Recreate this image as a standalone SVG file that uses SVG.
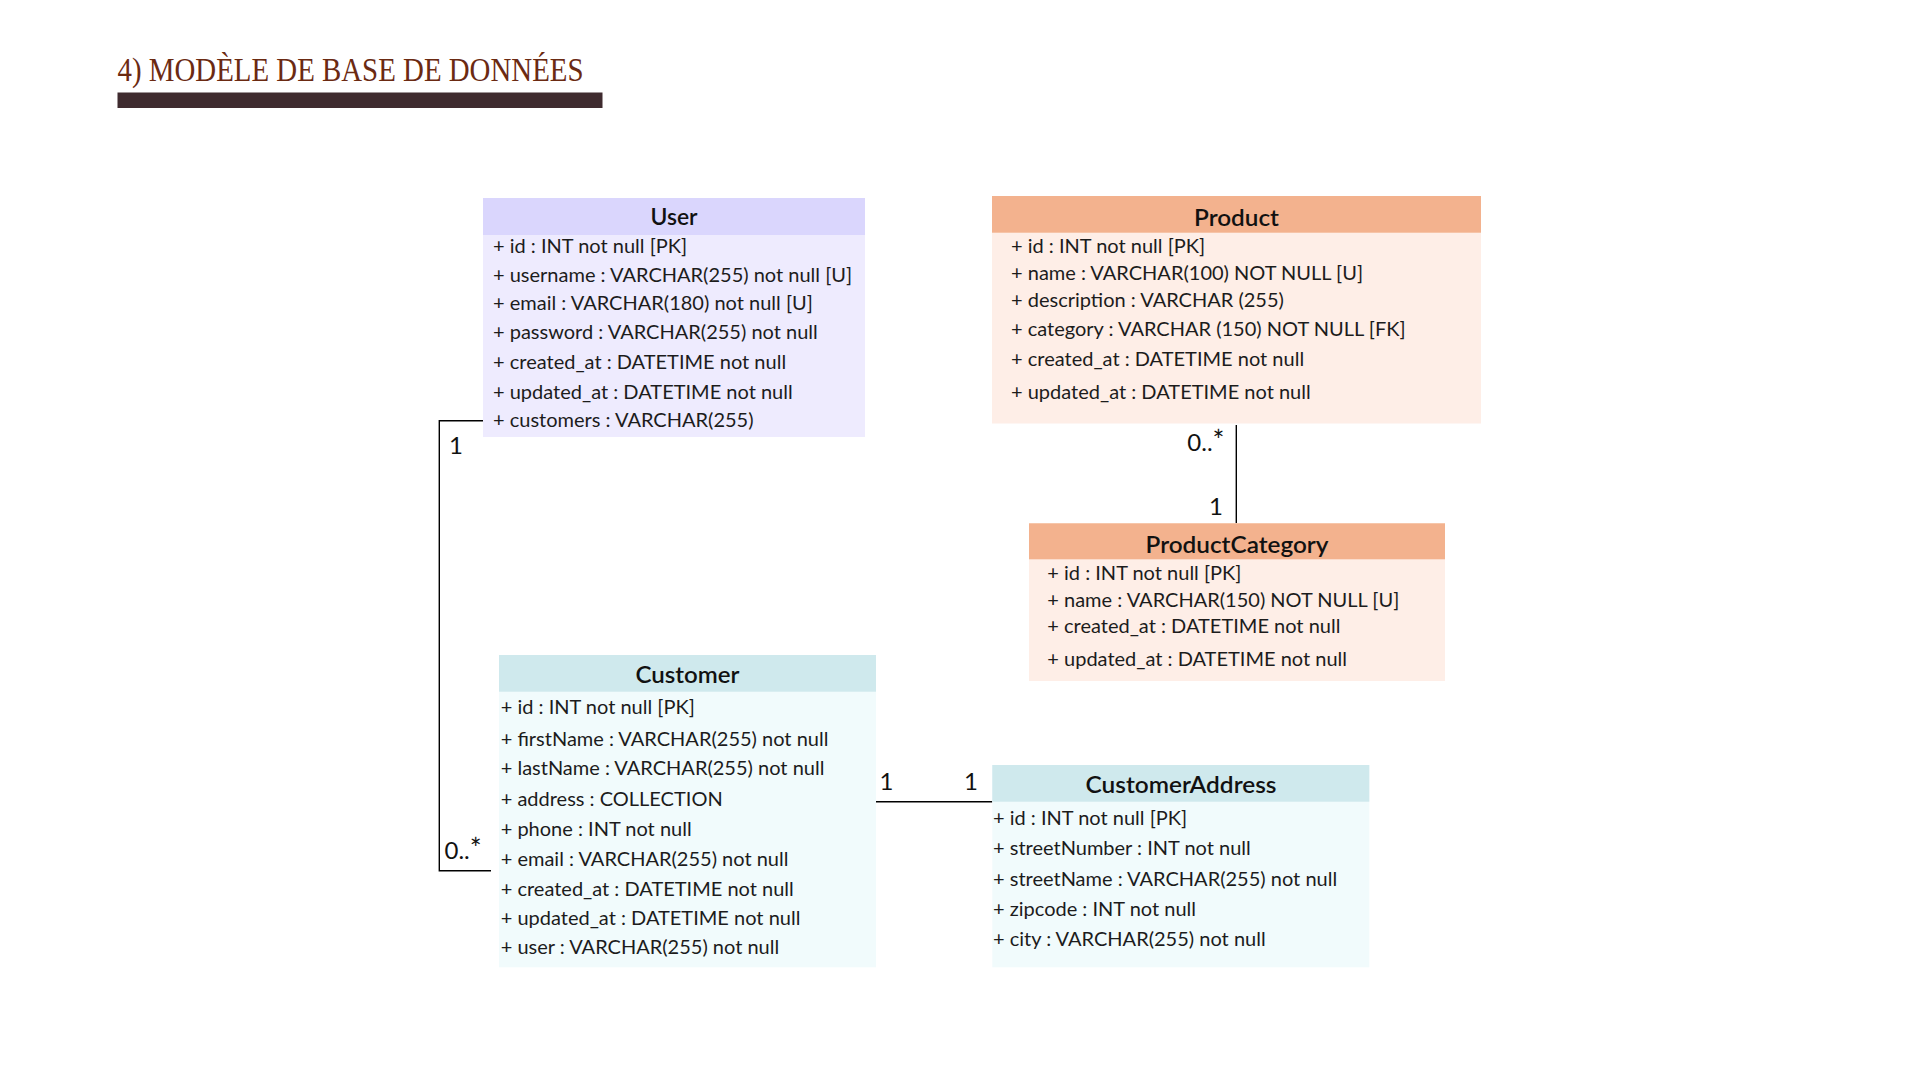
<svg xmlns="http://www.w3.org/2000/svg" width="1920" height="1080" viewBox="0 0 1920 1080">
<style>
.row{font-family:Lato,"Noto Sans",sans-serif;font-size:20px;fill:#1c1c1c}
.hd{font-family:Lato,"Noto Sans",sans-serif;font-size:22px;font-weight:600;fill:#111;text-anchor:middle}
.lbl{font-family:Lato,"Noto Sans",sans-serif;font-size:24px;fill:#111}
.ast{font-size:28px}
.conn{fill:none;stroke:#000;stroke-width:1.4}
</style>
<rect width="1920" height="1080" fill="#fff"/>
<g id="title">
<text x="117.5" y="81" font-family="'Liberation Serif',serif" font-size="33" fill="#6B2A12" textLength="466" lengthAdjust="spacingAndGlyphs">4) MODÈLE DE BASE DE DONNÉES</text>
<rect x="117.5" y="92.5" width="485" height="15.5" fill="#3F2B2F"/>
</g>
<g id="connectors">
<polyline class="conn" points="483,420.7 439.3,420.7 439.3,870.7 491,870.7"/>
<line class="conn" x1="1236.3" y1="425" x2="1236.3" y2="523.3"/>
<line class="conn" x1="876" y1="801.7" x2="992.3" y2="801.7"/>
<text class="lbl" x="449" y="454">1</text>
<text class="lbl" x="444.5" y="859">0..<tspan class="ast">*</tspan></text>
<text class="lbl" x="1224.5" y="451" text-anchor="end">0..<tspan class="ast">*</tspan></text>
<text class="lbl" x="1223" y="515" text-anchor="end">1</text>
<text class="lbl" x="879.5" y="790">1</text>
<text class="lbl" x="964" y="790">1</text>
</g>
<g id="User">
<rect x="483" y="198" width="382" height="239" fill="#EEEBFE"/>
<rect x="483" y="198" width="382" height="37" fill="#DAD6FD"/>
<text class="hd" x="674" y="224.5" textLength="47" lengthAdjust="spacingAndGlyphs">User</text>
<text class="row" x="493" y="253">+ id : INT not null [PK]</text>
<text class="row" x="493" y="281.7">+ username : VARCHAR(255) not null [U]</text>
<text class="row" x="493" y="310">+ email : VARCHAR(180) not null [U]</text>
<text class="row" x="493" y="338.5">+ password : VARCHAR(255) not null</text>
<text class="row" x="493" y="369">+ created_at : DATETIME not null</text>
<text class="row" x="493" y="399">+ updated_at : DATETIME not null</text>
<text class="row" x="493" y="427">+ customers : VARCHAR(255)</text>
</g>
<g id="Product">
<rect x="992" y="196" width="489" height="227.5" fill="#FEEEE7"/>
<rect x="992" y="196" width="489" height="36.7" fill="#F3B28E"/>
<text class="hd" x="1236.5" y="226" textLength="85" lengthAdjust="spacingAndGlyphs">Product</text>
<text class="row" x="1011" y="252.5">+ id : INT not null [PK]</text>
<text class="row" x="1011" y="279.5">+ name : VARCHAR(100) NOT NULL [U]</text>
<text class="row" x="1011" y="306.7">+ description : VARCHAR (255)</text>
<text class="row" x="1011" y="335.5">+ category : VARCHAR (150) NOT NULL [FK]</text>
<text class="row" x="1011" y="366">+ created_at : DATETIME not null</text>
<text class="row" x="1011" y="399">+ updated_at : DATETIME not null</text>
</g>
<g id="ProductCategory">
<rect x="1029" y="523.3" width="416" height="157.7" fill="#FEEEE7"/>
<rect x="1029" y="523.3" width="416" height="36" fill="#F3B28E"/>
<text class="hd" x="1237" y="553" textLength="183" lengthAdjust="spacingAndGlyphs">ProductCategory</text>
<text class="row" x="1047.3" y="580">+ id : INT not null [PK]</text>
<text class="row" x="1047.3" y="606.5">+ name : VARCHAR(150) NOT NULL [U]</text>
<text class="row" x="1047.3" y="633">+ created_at : DATETIME not null</text>
<text class="row" x="1047.3" y="666">+ updated_at : DATETIME not null</text>
</g>
<g id="Customer">
<rect x="499" y="655" width="377" height="312.3" fill="#F1FBFC"/>
<rect x="499" y="655" width="377" height="36.7" fill="#CFE9ED"/>
<text class="hd" x="687.5" y="683" textLength="104" lengthAdjust="spacingAndGlyphs">Customer</text>
<text class="row" x="500.7" y="714">+ id : INT not null [PK]</text>
<text class="row" x="500.7" y="745.5">+ firstName : VARCHAR(255) not null</text>
<text class="row" x="500.7" y="775">+ lastName : VARCHAR(255) not null</text>
<text class="row" x="500.7" y="806">+ address : COLLECTION</text>
<text class="row" x="500.7" y="835.5">+ phone : INT not null</text>
<text class="row" x="500.7" y="866">+ email : VARCHAR(255) not null</text>
<text class="row" x="500.7" y="895.5">+ created_at : DATETIME not null</text>
<text class="row" x="500.7" y="924.5">+ updated_at : DATETIME not null</text>
<text class="row" x="500.7" y="953.5">+ user : VARCHAR(255) not null</text>
</g>
<g id="CustomerAddress">
<rect x="992.3" y="765" width="377" height="202.3" fill="#F1FBFC"/>
<rect x="992.3" y="765" width="377" height="36.7" fill="#CFE9ED"/>
<text class="hd" x="1181" y="792.5" textLength="191" lengthAdjust="spacingAndGlyphs">CustomerAddress</text>
<text class="row" x="993" y="825">+ id : INT not null [PK]</text>
<text class="row" x="993" y="855.3">+ streetNumber : INT not null</text>
<text class="row" x="993" y="885.6">+ streetName : VARCHAR(255) not null</text>
<text class="row" x="993" y="916">+ zipcode : INT not null</text>
<text class="row" x="993" y="946">+ city : VARCHAR(255) not null</text>
</g>
</svg>
